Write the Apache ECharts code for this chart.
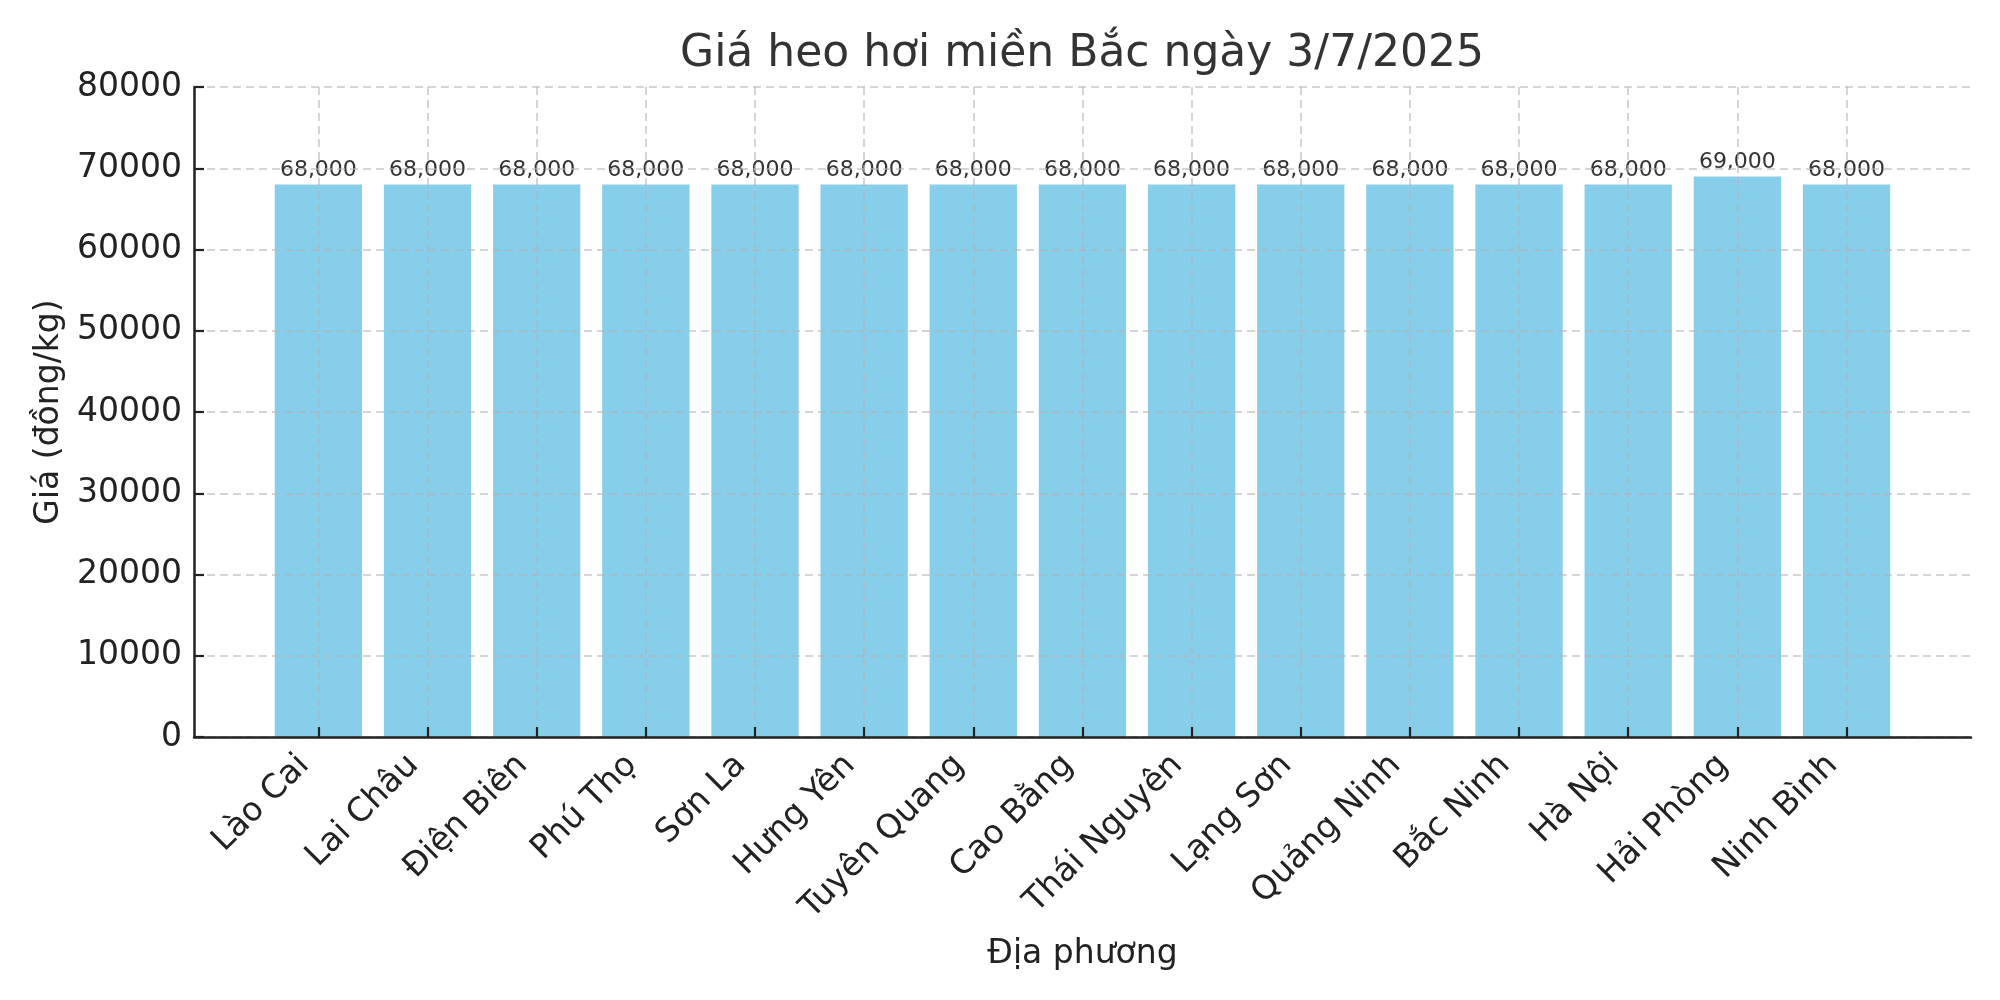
<!DOCTYPE html>
<html>
<head>
<meta charset="utf-8">
<title>Giá heo hơi miền Bắc</title>
<script src="https://cdn.jsdelivr.net/npm/echarts@6/dist/echarts.min.js"></script>
<style>
  html, body { margin: 0; padding: 0; background: #fff; }
  #chart { width: 2000px; height: 1000px; }
</style>
</head>
<body>
<div id="chart"></div>
<script>
// Datos del gráfico
const provinces = ['Lào Cai', 'Lai Châu', 'Điện Biên', 'Phú Thọ', 'Sơn La', 'Hưng Yên', 'Tuyên Quang',
  'Cao Bằng', 'Thái Nguyên', 'Lạng Sơn', 'Quảng Ninh', 'Bắc Ninh', 'Hà Nội', 'Hải Phòng', 'Ninh Bình'];
const prices = [68000, 68000, 68000, 68000, 68000, 68000, 68000,
  68000, 68000, 68000, 68000, 68000, 68000, 69000, 68000];
const yTicks = [0, 10000, 20000, 30000, 40000, 50000, 60000, 70000, 80000];

const titleText = 'Giá heo hơi miền Bắc ngày 3/7/2025';
const xName = 'Địa phương';
const yName = 'Giá (đồng/kg)';

const font = 'DejaVu Sans';
const gridColor = 'rgba(180, 180, 180, 0.75)';

const chart = echarts.init(document.getElementById('chart'));

const option = {
  animation: false,
  graphic: [{
    type: 'text',
    x: 1082,
    y: 55,
    style: {
      text: titleText,
      font: '44px "DejaVu Sans"',
      fill: '#333',
      textAlign: 'center',
      textVerticalAlign: 'middle'
    }
  }],
  grid: [
    // marco exterior: ejes visibles
    { left: 194, right: 29, top: 87, bottom: 263 },
    // zona de barras
    { left: 263.8, right: 98.9, top: 87, bottom: 263 }
  ],
  xAxis: [
    {
      gridIndex: 0,
      type: 'value',
      min: 0,
      max: 1,
      z: 5,
      name: xName,
      nameLocation: 'middle',
      nameGap: 201,
      nameTextStyle: { fontFamily: font, fontSize: 33, color: '#222' },
      axisLine: { show: true, lineStyle: { color: '#222', width: 2.5 } },
      axisTick: { show: false },
      axisLabel: { show: false },
      splitLine: { show: false }
    },
    {
      gridIndex: 1,
      type: 'category',
      data: provinces,
      z: 5,
      axisLine: { show: false },
      axisTick: {
        show: true, inside: true, alignWithLabel: true, length: 10,
        lineStyle: { color: '#222', width: 2.2 }
      },
      axisLabel: {
        rotate: 45,
        margin: 9,
        padding: [0, 20, 0, 0],
        fontFamily: font,
        fontSize: 33,
        color: '#222',
        interval: 0
      },
      splitLine: { show: false }
    },
    {
      gridIndex: 1,
      type: 'category',
      data: provinces,
      z: 4,
      axisLine: { show: false },
      axisTick: {
        show: true, inside: true, alignWithLabel: true, length: 650,
        lineStyle: { color: gridColor, width: 1.5, type: [8, 5] }
      },
      axisLabel: { show: false },
      splitLine: { show: false }
    }
  ],
  yAxis: [
    {
      gridIndex: 0,
      type: 'value',
      min: yTicks[0],
      max: yTicks[yTicks.length - 1],
      interval: yTicks[1] - yTicks[0],
      z: 5,
      name: yName,
      nameLocation: 'middle',
      nameGap: 119,
      nameTextStyle: { fontFamily: font, fontSize: 33, color: '#222' },
      axisLine: { show: true, lineStyle: { color: '#222', width: 2.5 } },
      axisTick: { show: true, inside: true, length: 10, lineStyle: { color: '#222', width: 2.2 } },
      axisLabel: { margin: 12, fontFamily: font, fontSize: 33, color: '#222', formatter: v => String(v) },
      splitLine: { show: true, lineStyle: { color: gridColor, width: 1.5, type: [8, 5] } }
    },
    {
      gridIndex: 1,
      type: 'value',
      min: yTicks[0],
      max: yTicks[yTicks.length - 1],
      show: false
    }
  ],
  series: [
    {
      type: 'bar',
      xAxisIndex: 1,
      yAxisIndex: 1,
      data: prices,
      barWidth: '80%',
      itemStyle: { color: '#87CEEB' },
      z: 2,
      label: {
        show: true,
        position: 'top',
        distance: 3,
        fontFamily: font,
        fontSize: 22,
        color: '#333',
        formatter: p => p.value.toLocaleString('en-US')
      }
    }
  ]
};

chart.setOption(option);
</script>
</body>
</html>
